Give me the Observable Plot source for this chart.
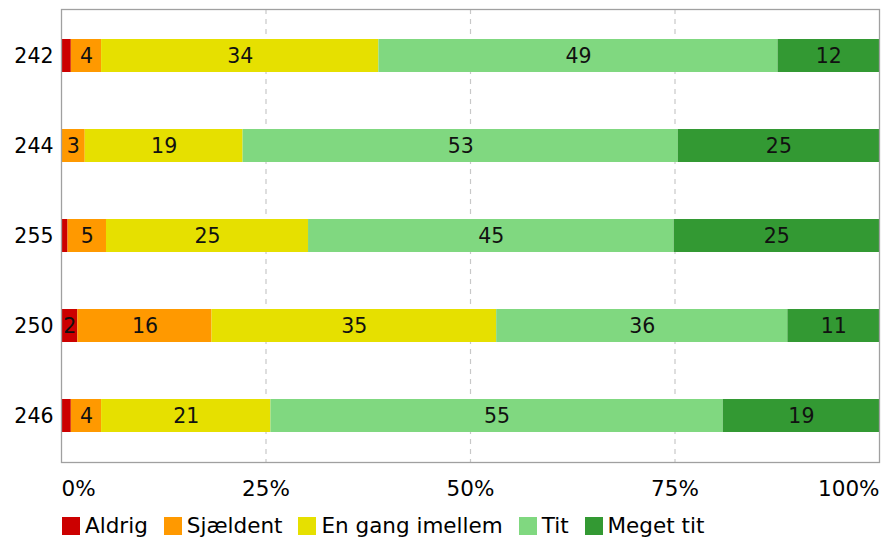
<!DOCTYPE html>
<html><head><meta charset="utf-8">
<script src="https://cdn.jsdelivr.net/npm/d3@7"></script>
<script src="https://cdn.jsdelivr.net/npm/@observablehq/plot@0.6"></script>
<style>
body{margin:0;background:#fff;font-family:"DejaVu Sans",Verdana,sans-serif;}
#chart svg{display:block}
.lg-swatches{font:21.5px "DejaVu Sans",Verdana,sans-serif;color:#000;margin:4px 0 0 62px;}
.lg-swatches .lg-swatch{margin-right:16px;}
.lg-swatches .lg-swatch > svg{margin-right:5px;}
</style></head><body><div id="chart"></div>
<script>
const groups = ["242","244","255","250","246"];
const categories = ["Aldrig","Sjældent","En gang imellem","Tit","Meget tit"];
const colors = ["#cc0000","#ff9900","#e6e000","#80d880","#339933"];
const aldrig    = [1.2, 0,    0.8,  2.0,  1.2];
const sjaeldent = [3.7, 2.9,  4.7,  16.4, 3.7];
const enGang    = [33.9,19.3, 24.7, 34.8, 20.7];
const tit       = [48.8,53.2, 44.7, 35.6, 55.3];
const megetTit  = [12.4,24.6, 25.1, 11.2, 19.1];
const tickValues = [0,25,50,75,100];
const gridValues = [25,50,75];

const series = [aldrig, sjaeldent, enGang, tit, megetTit];
const data = [];
groups.forEach((g, i) => {
  categories.forEach((c, j) => data.push({group: g, category: c, value: series[j][i]}));
});

const W = 881, H = 505;
const font = '"DejaVu Sans", Verdana, sans-serif';
const tickFont = 21.5;
const plot = Plot.plot({
  width: W, height: H,
  marginLeft: 61, marginRight: 2, marginTop: 9, marginBottom: 43,
  style: {fontFamily: font, fontSize: "20px", color: "#000", background: "#fff"},
  x: {domain: [0, 100], axis: null},
  y: {domain: groups, paddingInner: 0.636, paddingOuter: 0.318, axis: null},
  color: {domain: categories, range: colors},
  marks: [
    Plot.ruleX(gridValues, {stroke: "#c8c8c8", strokeWidth: 1.2, strokeDasharray: "5,5"}),
    Plot.barX(data, {x: "value", y: "group", fill: "category", z: "category"}),
    Plot.text(data, Plot.stackX({x: "value", y: "group", z: "category",
      text: d => d.value >= 1.5 ? String(Math.round(d.value)) : "",
      fill: "#111", fontSize: 20.5})),
    Plot.frame({stroke: "#a0a0a0", strokeWidth: 1.3}),
    Plot.axisY({tickSize: 0, tickPadding: 8, label: null, fontSize: 20.5}),
    Plot.text(tickValues.filter(v => v === 0), {x: d => d, text: d => d + "%", frameAnchor: "bottom", dy: 27, lineAnchor: "middle", textAnchor: "start", fontSize: tickFont}),
    Plot.text(tickValues.filter(v => v > 0 && v < 100), {x: d => d, text: d => d + "%", frameAnchor: "bottom", dy: 27, lineAnchor: "middle", textAnchor: "middle", fontSize: tickFont}),
    Plot.text(tickValues.filter(v => v === 100), {x: d => d, text: d => d + "%", frameAnchor: "bottom", dy: 27, lineAnchor: "middle", textAnchor: "end", fontSize: tickFont})
  ]
});
document.getElementById("chart").appendChild(plot);
const legend = Plot.legend({color: {domain: categories, range: colors}, legend: "swatches", swatchSize: 18, className: "lg"});
document.getElementById("chart").appendChild(legend);
</script></body></html>
